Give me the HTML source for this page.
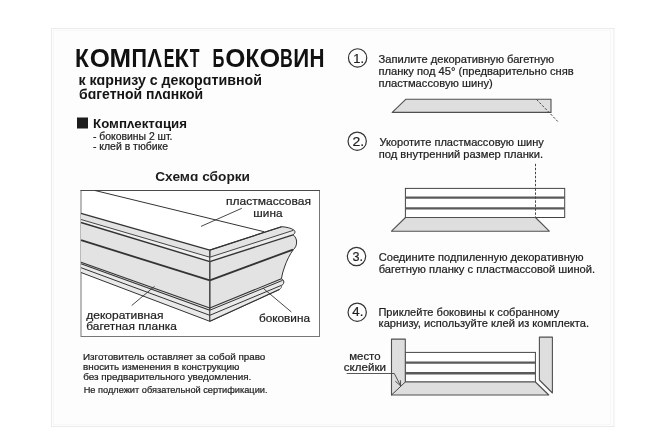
<!DOCTYPE html>
<html><head><meta charset="utf-8">
<style>
html,body{margin:0;padding:0;background:#fff;width:666px;height:444px;overflow:hidden}
svg{display:block;filter:grayscale(1)}
text{font-family:"Liberation Sans",sans-serif}
</style></head><body>
<svg width="666" height="444" viewBox="0 0 666 444">
<rect x="0" y="0" width="666" height="444" fill="#fff"/>
<rect x="51.5" y="28.5" width="562.5" height="398" fill="#fdfdfd" stroke="#ebebeb" stroke-width="1"/>
<rect x="53.5" y="30.5" width="557" height="394" fill="none" stroke="#f7f7f7" stroke-width="1"/>

<text transform="translate(75.08,66.6) scale(0.948,1.060)" font-size="24" font-weight="bold" fill="#111">К</text>
<text transform="translate(89.74,66.6) scale(1.079,1.044)" font-size="24" font-weight="bold" fill="#111">О</text>
<text transform="translate(109.47,66.6) scale(1.079,1.060)" font-size="24" font-weight="bold" fill="#111">М</text>
<text transform="translate(131.46,66.6) scale(0.897,1.060)" font-size="24" font-weight="bold" fill="#111">П</text>
<text transform="translate(147.35,66.6) scale(0.925,1.059)" font-size="24" font-weight="bold" fill="#111">Λ</text>
<text transform="translate(163.83,66.6) scale(0.668,1.060)" font-size="24" font-weight="bold" fill="#111">Е</text>
<text transform="translate(174.53,66.6) scale(0.979,1.060)" font-size="24" font-weight="bold" fill="#111">К</text>
<text transform="translate(189.82,66.6) scale(0.665,1.060)" font-size="24" font-weight="bold" fill="#111">Т</text>
<text transform="translate(212.49,66.6) scale(0.690,1.060)" font-size="24" font-weight="bold" fill="#111">Б</text>
<text transform="translate(225.14,66.6) scale(1.079,1.044)" font-size="24" font-weight="bold" fill="#111">О</text>
<text transform="translate(245.50,66.6) scale(0.933,1.060)" font-size="24" font-weight="bold" fill="#111">К</text>
<text transform="translate(259.41,66.6) scale(1.109,1.044)" font-size="24" font-weight="bold" fill="#111">О</text>
<text transform="translate(280.12,66.6) scale(0.738,1.060)" font-size="24" font-weight="bold" fill="#111">В</text>
<text transform="translate(293.33,66.6) scale(0.925,1.060)" font-size="24" font-weight="bold" fill="#111">И</text>
<text transform="translate(309.61,66.6) scale(0.865,1.060)" font-size="24" font-weight="bold" fill="#111">Н</text>
<text x="78.42" y="84.7" font-size="14" font-weight="bold" fill="#151515" textLength="183.46" lengthAdjust="spacingAndGlyphs">к кɑрнизу с декорɑтивной</text>
<text x="79.06" y="98.8" font-size="14" font-weight="bold" fill="#151515" textLength="124.11" lengthAdjust="spacingAndGlyphs">бɑгетной пʌɑнкой</text>
<rect x="77" y="117.5" width="11" height="11" fill="#1c1c1c"/>
<text x="93.12" y="127.7" font-size="13.3" font-weight="bold" fill="#151515" textLength="93.81" lengthAdjust="spacingAndGlyphs">Компʌектɑция</text>
<text x="92.94" y="139.8" font-size="10.4" font-weight="normal" fill="#1e1e1e" stroke="#1e1e1e" stroke-width="0.22" textLength="79.49" lengthAdjust="spacingAndGlyphs">- боковины 2 шт.</text>
<text x="92.93" y="149.8" font-size="10.4" font-weight="normal" fill="#1e1e1e" stroke="#1e1e1e" stroke-width="0.22" textLength="75.13" lengthAdjust="spacingAndGlyphs">- клей в тюбике</text>
<text x="155.24" y="180.7" font-size="12" font-weight="bold" fill="#1c1c1c" textLength="94.8" lengthAdjust="spacingAndGlyphs">Схемɑ сборки</text>

<!-- Diagram box -->
<rect x="81" y="190.5" width="238.5" height="146" fill="#fff" stroke="#777" stroke-width="1"/>
<line x1="80.5" y1="190.5" x2="320" y2="190.5" stroke="#4a4a4a" stroke-width="1"/>

<g stroke="#333" stroke-width="1" fill="none" stroke-linejoin="round">
  <!-- front face -->
  <polygon points="81,213.4 209.8,250.1 209.8,321.3 81,272.5" fill="#e3e3e3" stroke="none"/>
  <polygon points="81,219.5 209.8,257.2 209.8,261.6 81,222.5" fill="#f1f1f1" stroke="none"/>
  <polygon points="81,263.6 209.8,310.2 209.8,321.3 81,272.5" fill="#e9e9e9" stroke="none"/>
  <!-- side piece -->
  <path d="M209.8,250.1 L281.6,226.7 C286,227 291,228 293.5,229.8 C295.6,231 295.6,233.2 293,234.8 C297.8,238 297.8,246 293.2,249.8 C290,254 286.5,261 284.5,267 C283,271 282,275 281.4,278.8 C283.5,279.5 284.5,281.5 283.5,283.5 C283,284.5 282.3,285 281.8,285.2 C281.5,286.5 281,288.5 279.7,289.3 L209.8,321.3 Z" fill="#e3e3e3" stroke="#333"/>
  <polygon points="209.8,257.2 293.5,230.3 293,234.8 209.8,261.6" fill="#ececec" stroke="none"/>
  <polygon points="209.8,310.2 282.7,280.3 281.8,285.2 279.7,289.3 209.8,321.3" fill="#e9e9e9" stroke="none"/>
  <!-- L1 back edge -->
  <line x1="95" y1="190.5" x2="264" y2="231.7"/>
  <!-- front lines -->
  <line x1="81" y1="213.4" x2="209.8" y2="250.1" stroke-width="1.3"/>
  <line x1="81" y1="219.5" x2="209.8" y2="257.2" stroke-width="0.9"/>
  <line x1="81" y1="222.5" x2="209.8" y2="261.6" stroke-width="1.4"/>
  <line x1="81" y1="240.2" x2="209.8" y2="280.3" stroke-width="1.8"/>
  <line x1="81" y1="262.3" x2="209.8" y2="308.1" stroke-width="1.1"/>
  <line x1="81" y1="263.8" x2="209.8" y2="310.2" stroke-width="1.1"/>
  <line x1="81" y1="267.7" x2="209.8" y2="315.3"/>
  <line x1="81" y1="272.5" x2="209.8" y2="321.3"/>
  <!-- side lines -->
  <line x1="209.8" y1="250.1" x2="281.6" y2="226.7" stroke-width="1.2"/>
  <line x1="209.8" y1="257.2" x2="293.5" y2="230.3" stroke-width="0.9"/>
  <line x1="209.8" y1="261.6" x2="293" y2="234.8" stroke-width="1.4"/>
  <line x1="209.8" y1="280.3" x2="293" y2="249.6" stroke-width="1.8"/>
  <line x1="209.8" y1="308.1" x2="281.4" y2="278.8" stroke-width="1.1"/>
  <line x1="209.8" y1="310.2" x2="282.7" y2="280.3" stroke-width="1"/>
  <line x1="209.8" y1="315.3" x2="281.8" y2="285.2"/>
  <line x1="209.8" y1="321.3" x2="279.7" y2="289.3" stroke-width="1.1"/>
  <!-- corner -->
  <line x1="209.8" y1="250.1" x2="209.8" y2="321.3" stroke="#444" stroke-width="1.1"/>
  <!-- leaders -->
  <line x1="241.8" y1="208.3" x2="201" y2="226.4" stroke-width="0.9"/>
  <line x1="154.6" y1="286.3" x2="131.7" y2="305.5" stroke-width="0.9"/>
  <line x1="263.1" y1="288.2" x2="291.4" y2="312" stroke-width="0.9"/>
</g>

<!-- Right column: step circles -->
<g fill="none" stroke="#333" stroke-width="1.2">
  <circle cx="357.6" cy="57.9" r="9.15"/>
  <circle cx="357.2" cy="141.2" r="9.15"/>
  <circle cx="356.5" cy="256.5" r="9.15"/>
  <circle cx="357.2" cy="312.2" r="9.15"/>
</g>

<!-- Fig 1 -->
<polygon points="405.7,99.3 551,99.3 551,112.4 392.2,112.4" fill="#dedede" stroke="#505050" stroke-width="1.1" stroke-linejoin="round"/>
<line x1="536.7" y1="99.6" x2="558.3" y2="122" stroke="#444" stroke-width="1" stroke-dasharray="2.4,1.6"/>

<!-- Fig 2 -->
<line x1="535.5" y1="163.8" x2="535.5" y2="188.4" stroke="#444" stroke-width="1" stroke-dasharray="2.4,1.6"/>
<rect x="405.4" y="188.4" width="159.3" height="29.1" fill="#fff" stroke="#444" stroke-width="1"/>
<line x1="405.4" y1="197.6" x2="564.7" y2="197.6" stroke="#5a5a5a" stroke-width="2.4"/>
<line x1="405.4" y1="208.4" x2="564.7" y2="208.4" stroke="#5a5a5a" stroke-width="2.4"/>
<line x1="535.5" y1="188.4" x2="535.5" y2="217.5" stroke="#444" stroke-width="1" stroke-dasharray="2.4,1.6"/>
<polygon points="405.5,217.5 535.5,217.5 549.3,231.2 391.5,231.2" fill="#dedede" stroke="#505050" stroke-width="1.1" stroke-linejoin="round"/>

<!-- Fig 4 -->
<rect x="405.3" y="352.4" width="130.1" height="29.6" fill="#fff" stroke="#444" stroke-width="1"/>
<line x1="405.3" y1="362.6" x2="535.4" y2="362.6" stroke="#5a5a5a" stroke-width="2.4"/>
<line x1="405.3" y1="373.3" x2="535.4" y2="373.3" stroke="#5a5a5a" stroke-width="2.4"/>
<path d="M391.5,339.1 L405.3,339.1 L405.3,382 L535.4,382 L548.8,395 L391.5,395 Z" fill="#dedede" stroke="#505050" stroke-width="1.1" stroke-linejoin="round"/>
<line x1="391.5" y1="395" x2="405.3" y2="382" stroke="#444" stroke-width="1"/>
<polygon points="539.4,337.1 552.4,337.1 552.4,393 539.4,380" fill="#dedede" stroke="#505050" stroke-width="1.1" stroke-linejoin="round"/>
<polyline points="346.7,373.5 394.3,373.5 400.6,385.8" fill="none" stroke="#444" stroke-width="0.9"/>
<polyline points="395.3,381.2 400.6,385.8 400.4,380.2" fill="none" stroke="#444" stroke-width="0.9"/>

<text x="225.97" y="205.4" font-size="11.5" font-weight="normal" fill="#1e1e1e" stroke="#1e1e1e" stroke-width="0.22" textLength="84.97" lengthAdjust="spacingAndGlyphs">пластмассовая</text>
<text x="253.38" y="217.1" font-size="11.5" font-weight="normal" fill="#1e1e1e" stroke="#1e1e1e" stroke-width="0.22" textLength="29.12" lengthAdjust="spacingAndGlyphs">шина</text>
<text x="86.28" y="318.9" font-size="11.5" font-weight="normal" fill="#1e1e1e" stroke="#1e1e1e" stroke-width="0.22" textLength="77.15" lengthAdjust="spacingAndGlyphs">декоративная</text>
<text x="86.31" y="329.8" font-size="11.5" font-weight="normal" fill="#1e1e1e" stroke="#1e1e1e" stroke-width="0.22" textLength="90.49" lengthAdjust="spacingAndGlyphs">багетная планка</text>
<text x="258.91" y="322.3" font-size="11.5" font-weight="normal" fill="#1e1e1e" stroke="#1e1e1e" stroke-width="0.22" textLength="51.09" lengthAdjust="spacingAndGlyphs">боковина</text>
<text x="83.0" y="359.9" font-size="9.4" font-weight="normal" fill="#1e1e1e" stroke="#1e1e1e" stroke-width="0.22" textLength="182.31" lengthAdjust="spacingAndGlyphs">Изготовитель оставляет за собой право</text>
<text x="83.12" y="369.7" font-size="9.4" font-weight="normal" fill="#1e1e1e" stroke="#1e1e1e" stroke-width="0.22" textLength="156.29" lengthAdjust="spacingAndGlyphs">вносить изменения в конструкцию</text>
<text x="83.23" y="380.0" font-size="9.4" font-weight="normal" fill="#1e1e1e" stroke="#1e1e1e" stroke-width="0.22" textLength="168.06" lengthAdjust="spacingAndGlyphs">без предварительного уведомления.</text>
<text x="83.65" y="392.6" font-size="9.4" font-weight="normal" fill="#1e1e1e" stroke="#1e1e1e" stroke-width="0.22" textLength="183.89" lengthAdjust="spacingAndGlyphs">Не подлежит обязательной сертификации.</text>
<text x="378.64" y="62.5" font-size="11" font-weight="normal" fill="#1e1e1e" stroke="#1e1e1e" stroke-width="0.22" textLength="175.53" lengthAdjust="spacingAndGlyphs">Запилите декоративную багетную</text>
<text x="378.43" y="74.9" font-size="11" font-weight="normal" fill="#1e1e1e" stroke="#1e1e1e" stroke-width="0.22" textLength="195.25" lengthAdjust="spacingAndGlyphs">планку под 45° (предварительно сняв</text>
<text x="378.43" y="86.6" font-size="11" font-weight="normal" fill="#1e1e1e" stroke="#1e1e1e" stroke-width="0.22" textLength="114.37" lengthAdjust="spacingAndGlyphs">пластмассовую шину)</text>
<text x="379.4" y="146.1" font-size="11" font-weight="normal" fill="#1e1e1e" stroke="#1e1e1e" stroke-width="0.22" textLength="164.42" lengthAdjust="spacingAndGlyphs">Укоротите пластмассовую шину</text>
<text x="378.73" y="157.9" font-size="11" font-weight="normal" fill="#1e1e1e" stroke="#1e1e1e" stroke-width="0.22" textLength="164.29" lengthAdjust="spacingAndGlyphs">под внутренний размер планки.</text>
<text x="378.74" y="260.8" font-size="11" font-weight="normal" fill="#1e1e1e" stroke="#1e1e1e" stroke-width="0.22" textLength="204.93" lengthAdjust="spacingAndGlyphs">Соедините подпиленную декоративную</text>
<text x="378.65" y="272.8" font-size="11" font-weight="normal" fill="#1e1e1e" stroke="#1e1e1e" stroke-width="0.22" textLength="216.47" lengthAdjust="spacingAndGlyphs">багетную планку с пластмассовой шиной.</text>
<text x="378.4" y="316.2" font-size="11" font-weight="normal" fill="#1e1e1e" stroke="#1e1e1e" stroke-width="0.22" textLength="180.92" lengthAdjust="spacingAndGlyphs">Приклейте боковины к собранному</text>
<text x="378.56" y="327.2" font-size="11" font-weight="normal" fill="#1e1e1e" stroke="#1e1e1e" stroke-width="0.22" textLength="210.55" lengthAdjust="spacingAndGlyphs">карнизу, используйте клей из комплекта.</text>
<text x="353.22" y="62.5" font-size="13" font-weight="normal" fill="#1e1e1e" stroke="#1e1e1e" stroke-width="0.22" textLength="10.76" lengthAdjust="spacingAndGlyphs">1.</text>
<text x="352.4" y="145.8" font-size="13" font-weight="normal" fill="#1e1e1e" stroke="#1e1e1e" stroke-width="0.22" textLength="11.68" lengthAdjust="spacingAndGlyphs">2.</text>
<text x="352.42" y="260.6" font-size="13" font-weight="normal" fill="#1e1e1e" stroke="#1e1e1e" stroke-width="0.22" textLength="10.53" lengthAdjust="spacingAndGlyphs">3.</text>
<text x="352.3" y="316.3" font-size="13" font-weight="normal" fill="#1e1e1e" stroke="#1e1e1e" stroke-width="0.22" textLength="11.01" lengthAdjust="spacingAndGlyphs">4.</text>
<text x="349.21" y="359.6" font-size="11.2" font-weight="normal" fill="#1e1e1e" stroke="#1e1e1e" stroke-width="0.22" textLength="31.37" lengthAdjust="spacingAndGlyphs">место</text>
<text x="343.81" y="370.6" font-size="11.2" font-weight="normal" fill="#1e1e1e" stroke="#1e1e1e" stroke-width="0.22" textLength="42.2" lengthAdjust="spacingAndGlyphs">склейки</text>
</svg>
</body></html>
